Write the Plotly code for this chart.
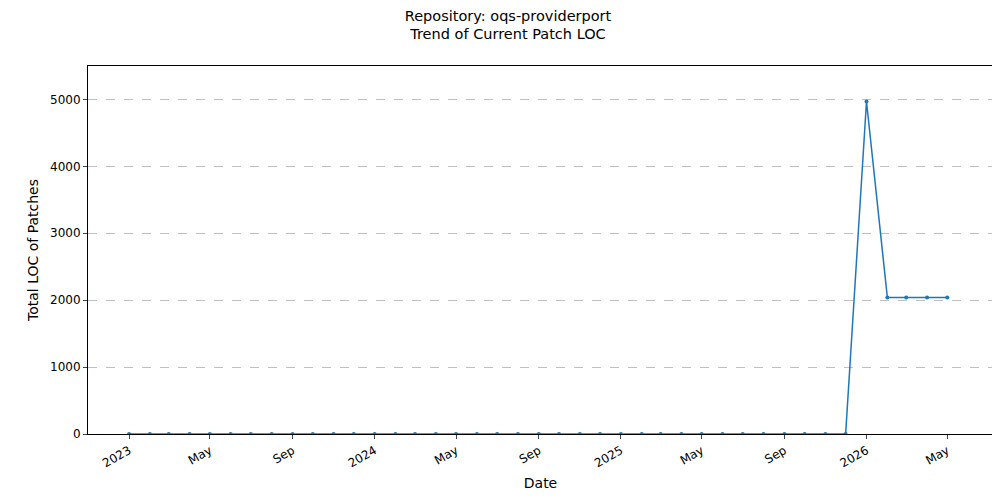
import plotly.graph_objects as go
import pandas as pd

dates = pd.date_range("2023-01-01", "2026-05-01", freq="MS")
values = [0]*36 + [4970, 2040, 2040, 2040, 2040]
tick_dates = ["2023-01-01","2023-05-01","2023-09-01","2024-01-01","2024-05-01","2024-09-01",
              "2025-01-01","2025-05-01","2025-09-01","2026-01-01","2026-05-01"]
tick_text = ["2023","May","Sep","2024","May","Sep","2025","May","Sep","2026","May"]

fig = go.Figure(go.Scatter(x=dates, y=values, mode="lines+markers",
    line=dict(color="#1f77b4", width=1.5), marker=dict(size=4, color="#1f77b4")))
fig.update_layout(
    width=1000, height=500, paper_bgcolor="white", plot_bgcolor="white",
    margin=dict(l=80, r=15, t=58, b=74, autoexpand=False),
    font=dict(family="DejaVu Sans", size=12, color="black"),
    title=dict(text="Repository: oqs-providerport<br>Trend of Current Patch LOC", x=0.5, xanchor="center",
               y=0.975, yanchor="top", font=dict(size=14.5), automargin=False),
    showlegend=False,
)
fig.update_xaxes(range=["2022-11-01", "2026-07-08"], tickvals=tick_dates, ticktext=tick_text,
    tickangle=-30, showgrid=False, showline=True, linecolor="black", mirror=True, automargin=False,
    ticks="outside", ticklen=4, title=dict(text="Date", standoff=8))
fig.update_yaxes(range=[0, 5500], tickvals=[0,1000,2000,3000,4000,5000], showgrid=True,
    gridcolor="#c0c0c0", griddash="dash", gridwidth=0.6, showline=True, linecolor="black", mirror=True,
    automargin=False, ticks="outside", ticklen=4, zeroline=False,
    title=dict(text="Total LOC of Patches", standoff=8))
fig.write_html("out.html")
